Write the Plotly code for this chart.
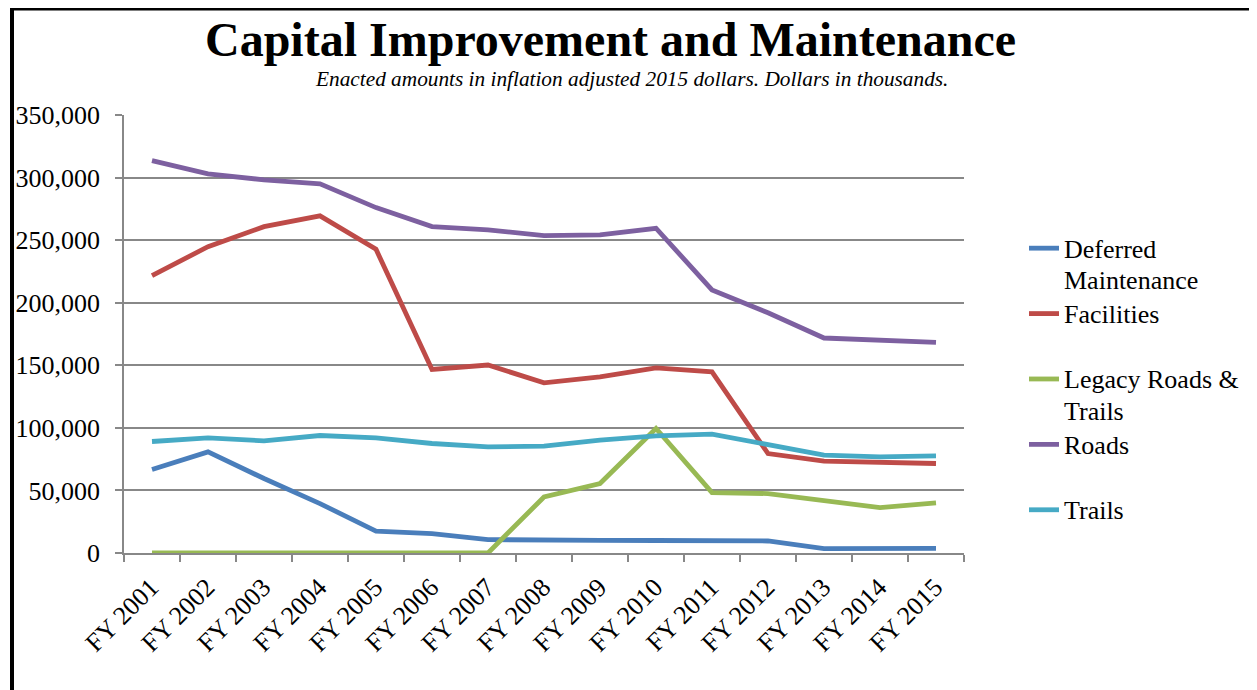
import plotly.graph_objects as go

categories = ["FY 2001", "FY 2002", "FY 2003", "FY 2004", "FY 2005", "FY 2006", "FY 2007", "FY 2008",
              "FY 2009", "FY 2010", "FY 2011", "FY 2012", "FY 2013", "FY 2014", "FY 2015"]

deferred_maintenance = [66700, 80800, 59500, 39500, 17400, 15500, 10700, 10100,
                        10100, 10000, 10000, 9600, 3500, 3500, 3700]
facilities = [221600, 244800, 260800, 269400, 242700, 146700, 150200, 136000,
              140800, 148000, 144800, 79500, 73400, 72300, 71500]
legacy_roads_trails = [0, 0, 0, 0, 0, 0, 0, 44800,
                       55500, 99500, 48300, 47500, 41600, 36300, 40000]
roads = [313600, 302900, 298200, 295000, 276000, 260800, 258200, 253600,
         254200, 259500, 210200, 192000, 171800, 169600, 168300]
trails = [89100, 92000, 89600, 93900, 92000, 87500, 84800, 85400,
          90200, 93600, 95000, 86700, 78200, 76800, 77600]

series_names = ["Deferred<br>Maintenance", "Facilities<br> ", "Legacy Roads &<br>Trails", "Roads<br> ", "Trails"]
series_values = [deferred_maintenance, facilities, legacy_roads_trails, roads, trails]
series_colors = ["#4A7EBB", "#BE4B48", "#98B954", "#7D60A0", "#46AAC5"]

title_text = "<b>Capital Improvement and Maintenance</b>"
subtitle_text = "<i>Enacted amounts in inflation adjusted 2015 dollars. Dollars in thousands.</i>"

FONT = "Liberation Serif, Times New Roman, serif"

# page body margin offset (pixels)
OFF = 8
W, H = 1257 - OFF, 690 - OFF
# plot area in screenshot pixels
L, R, T, B = 124, 964, 115, 552.7

def px_x(px):
    return (px - L) / (R - L)

def px_y(py):
    return (B - py) / (B - T)

fig = go.Figure()
for name, vals, col in zip(series_names, series_values, series_colors):
    fig.add_trace(go.Scatter(
        x=categories, y=vals, mode="lines",
        name="<span style='font-size:26px'>" + name.replace("<br>", "</span><br><span style='font-size:26px'>") + "</span>",
        line=dict(color=col, width=4.8)))

fig.update_layout(
    width=W, height=H,
    margin=dict(l=L - OFF, r=(W + OFF) - R, t=T - OFF, b=(H + OFF) - B, pad=0, autoexpand=False),
    paper_bgcolor="white", plot_bgcolor="white",
    font=dict(family=FONT, size=26, color="black"),
    showlegend=True,
    legend=dict(x=px_x(1024), y=px_y(226), xanchor="left", yanchor="top",
                valign="top", font=dict(size=24, family=FONT, color="black"),
                bgcolor="rgba(0,0,0,0)", tracegroupgap=0, itemwidth=30),
    annotations=[
        dict(text=title_text, x=px_x(610), y=px_y(40), xref="paper", yref="paper",
             xanchor="center", yanchor="middle", showarrow=False,
             font=dict(size=48, family=FONT, color="black")),
        dict(text=subtitle_text, x=px_x(631.5), y=px_y(79), xref="paper", yref="paper",
             xanchor="center", yanchor="middle", showarrow=False,
             font=dict(size=21.3, family=FONT, color="black")),
    ],
    shapes=[
        dict(type="line", xref="paper", yref="paper", x0=px_x(12), x1=px_x(12),
             y0=px_y(8), y1=px_y(700), line=dict(color="black", width=4)),
        dict(type="line", xref="paper", yref="paper", x0=px_x(10), x1=px_x(1251),
             y0=px_y(9), y1=px_y(9), line=dict(color="black", width=3)),
        dict(type="line", xref="paper", yref="paper", x0=px_x(1250), x1=px_x(1250),
             y0=px_y(8), y1=px_y(700), line=dict(color="#333333", width=1.5)),
    ],
)

fig.update_xaxes(
    type="category", range=[-0.5, len(categories) - 0.5], automargin=False,
    tickson="boundaries", ticks="outside", ticklen=7,
    tickcolor="#888888", tickwidth=1.5, showline=True, linecolor="#888888", linewidth=1.5,
    tickangle=-45, showgrid=False, tickfont=dict(size=26, family=FONT),
    ticklabelshift=-1, ticklabelstandoff=7,
)
fig.update_yaxes(
    range=[0, 350000], dtick=50000, tickformat=",", ticks="outside", ticklen=7, automargin=False,
    tickcolor="#888888", tickwidth=1.5, showline=True, linecolor="#888888", linewidth=1.5,
    showgrid=True, gridcolor="#888888", gridwidth=1.5, zeroline=False,
    tickfont=dict(size=26, family=FONT), ticklabelstandoff=10,
)

fig.write_html("out.html")
